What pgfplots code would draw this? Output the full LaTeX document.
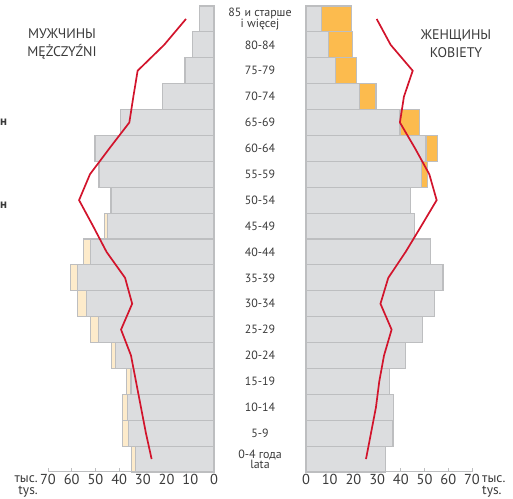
\documentclass[border=0pt]{standalone}
\usepackage{pgfplots}
\pgfplotsset{compat=1.18}
\usepackage{fontspec}
\setmainfont{PT Sans}

\definecolor{bargray}{HTML}{DCDDDF}
\definecolor{barline}{HTML}{BDBEC0}
\definecolor{beige}{HTML}{FDEBCB}
\definecolor{orng}{HTML}{FCBB4E}
\definecolor{redline}{HTML}{D2142C}
\definecolor{txt}{HTML}{3A3A3A}

\pgfplotsset{
  pyr/.style={
    scale only axis,
    width=166bp, height=466bp,
    xmin=0, xmax=70,
    ymin=-0.5, ymax=17.5,
    axis x line=bottom,
    axis y line=none,
    axis line style={-, draw=barline, line width=1bp},
    xtick={0,10,...,70},
    ytick=\empty,
    tick align=inside,
    major tick length=4bp,
    tick style={draw=barline, line width=0.8bp},
    /pgf/number format/assume math mode=true,
    ticklabel style={font=\fontsize{14.5}{14.5}\selectfont, text=txt},
    xticklabel style={yshift=1bp},
    clip=false,
  },
  bars/.style={xbar, bar width=1, bar shift=0pt, draw=barline, line width=1.2bp},
  pline/.style={draw=redline, line width=1.7bp, mark=none},
}

\begin{document}
\begin{tikzpicture}
\path[use as bounding box] (0,0) rectangle (513bp,499bp);

% men (left)
\begin{axis}[pyr, x dir=reverse, at={(48bp,27bp)}, anchor=south west]
  % total incl. extra (beige)
  \addplot[bars, fill=beige] coordinates {
    (34.7,0) (38.5,1) (38.5,2) (37.0,3) (43.3,4) (52.0,5) (57.5,6) (60.4,7) (55.1,8)
    (46.3,9) (43.4,10) (48.5,11) (50.2,12) (39.4,13) (21.6,14) (12.2,15) (9.0,16) (6.2,17)
  };
  % gray part
  \addplot[bars, fill=bargray] coordinates {
    (33.0,0) (36.1,1) (36.4,2) (35.0,3) (41.6,4) (48.6,5) (53.9,6) (57.5,7) (52.2,8)
    (45.0,9) (43.4,10) (48.5,11) (50.2,12) (39.4,13) (21.6,14) (12.2,15) (9.0,16) (6.2,17)
  };
  \addplot[pline] coordinates {
    (26.3,0) (28.7,1) (30.8,2) (32.9,3) (35.0,4) (39.2,5) (34.5,6) (37.5,7) (45.3,8)
    (51.0,9) (56.9,10) (52.3,11) (44.1,12) (35.7,13) (34.0,14) (32.2,15) (21.0,16) (11.8,17)
  };
  % age groups
  \begin{scope}[every node/.style={font=\fontsize{12}{10.5}\selectfont, text=txt, align=center}]
    \node at (axis cs:-19.4,0) {0-4 года\\lata};
    \node at (axis cs:-19.4,1) {5-9};
    \node at (axis cs:-19.4,2) {10-14};
    \node at (axis cs:-19.4,3) {15-19};
    \node at (axis cs:-19.4,4) {20-24};
    \node at (axis cs:-19.4,5) {25-29};
    \node at (axis cs:-19.4,6) {30-34};
    \node at (axis cs:-19.4,7) {35-39};
    \node at (axis cs:-19.4,8) {40-44};
    \node at (axis cs:-19.4,9) {45-49};
    \node at (axis cs:-19.4,10) {50-54};
    \node at (axis cs:-19.4,11) {55-59};
    \node at (axis cs:-19.4,12) {60-64};
    \node at (axis cs:-19.4,13) {65-69};
    \node at (axis cs:-19.4,14) {70-74};
    \node at (axis cs:-19.4,15) {75-79};
    \node at (axis cs:-19.4,16) {80-84};
    \node at (axis cs:-19.4,17) {85 и старше\\i więcej};
  \end{scope}
\end{axis}

% women (right)
\begin{axis}[pyr, at={(306bp,27bp)}, anchor=south west]
  \addplot[bars, fill=orng] coordinates {
    (33.5,0) (36.7,1) (37.0,2) (35.3,3) (42.0,4) (49.1,5) (54.3,6) (57.8,7) (52.4,8)
    (45.6,9) (43.9,10) (51.2,11) (55.4,12) (47.7,13) (29.5,14) (21.4,15) (19.5,16) (19.3,17)
  };
  \addplot[bars, fill=bargray] coordinates {
    (33.5,0) (36.7,1) (37.0,2) (35.3,3) (42.0,4) (49.1,5) (54.3,6) (57.8,7) (52.4,8)
    (45.6,9) (43.9,10) (48.8,11) (50.6,12) (39.6,13) (22.4,14) (12.5,15) (9.4,16) (6.6,17)
  };
  \addplot[pline] coordinates {
    (25.3,0) (27.4,1) (29.5,2) (30.9,3) (32.9,4) (36.1,5) (31.4,6) (34.7,7) (42.0,8)
    (48.6,9) (55.1,10) (52.0,11) (46.0,12) (39.6,13) (41.3,14) (45.0,15) (35.7,16) (29.8,17)
  };
\end{axis}

% titles
\node[align=center, text=txt, font=\fontsize{14}{18}\selectfont] at (62bp,455bp) {МУЖЧИНЫ\\MĘŻCZYŹNI};
\node[align=center, text=txt, font=\fontsize{14}{18}\selectfont] at (456bp,455bp) {ЖЕНЩИНЫ\\KOBIETY};
% units
\node[align=right, anchor=east, text=txt, font=\fontsize{13.5}{12}\selectfont, inner sep=0pt] at (38bp,13bp) {тыс.\\tys.};
\node[align=left, anchor=west, text=txt, font=\fontsize{13.5}{12}\selectfont, inner sep=0pt] at (482bp,13bp) {тыс.\\tys.};
% clipped fragments at the left edge
\node[anchor=west, text=txt, font=\bfseries\fontsize{13}{13}\selectfont, inner sep=0pt] at (0bp,377bp) {н};
\node[anchor=west, text=txt, font=\bfseries\fontsize{13}{13}\selectfont, inner sep=0pt] at (0bp,294bp) {н};
\end{tikzpicture}
\end{document}
